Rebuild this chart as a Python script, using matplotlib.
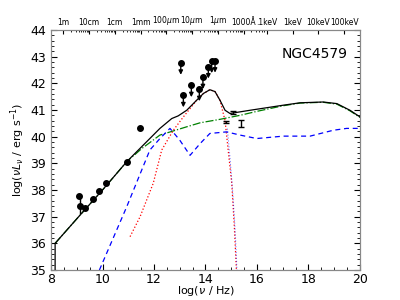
import numpy as np
import matplotlib
matplotlib.use('Agg')
import matplotlib.pyplot as plt
from matplotlib.ticker import MultipleLocator, FixedLocator

# photometry (log nu, log nuLnu)
det_x = [9.10, 9.13, 9.32, 9.64, 9.88, 10.14, 10.94, 11.46]
det_y = [37.77, 37.40, 37.31, 37.65, 37.97, 38.25, 39.06, 40.34]
lim_x = [13.04, 13.14, 13.45, 13.76, 13.90, 14.11, 14.24, 14.37]
lim_y = [42.77, 41.55, 41.93, 41.78, 42.23, 42.63, 42.83, 42.85]
xr_x = [14.80, 15.08, 15.39]
xr_y = [40.56, 40.92, 40.49]
xr_err = [0.04, 0.06, 0.13]

# model components
tot_x = [8.16, 8.16, 9.13, 10.0, 10.94, 11.58, 12.23, 12.69, 12.94, 13.27, 13.66, 13.92,
         14.17, 14.37, 14.56, 14.76, 14.95, 15.73, 17.02, 17.67, 18.57, 19.10, 19.61, 20.0]
tot_y = [35.0, 36.0, 37.06, 38.0, 39.06, 39.68, 40.31, 40.68, 40.78, 40.99, 41.37, 41.62,
         41.76, 41.69, 41.37, 40.99, 40.87, 40.99, 41.18, 41.27, 41.30, 41.24, 40.99, 40.74]
agn_x = [8.16, 9.13, 10.0, 10.94, 11.52, 12.23, 13.27, 13.79, 14.56, 15.34, 16.0, 17.02,
         17.67, 18.57, 19.10, 19.61, 20.0]
agn_y = [36.0, 37.06, 38.0, 39.06, 39.55, 40.06, 40.37, 40.52, 40.65, 40.8, 40.95, 41.16,
         41.26, 41.29, 41.22, 40.97, 40.72]
dust_x = [11.07, 11.46, 11.97, 12.30, 12.75, 13.14, 13.66, 13.92, 14.17, 14.37, 14.56,
          14.76, 14.88, 15.02, 15.12, 15.20]
dust_y = [36.25, 37.0, 38.25, 39.5, 40.24, 40.74, 41.37, 41.62, 41.76, 41.69, 41.37,
          40.6, 39.5, 38.25, 36.62, 35.0]
host_x = [9.88, 10.94, 11.84, 12.23, 12.62, 13.0, 13.4, 13.79, 14.17, 14.82, 15.34, 15.99,
          17.02, 18.06, 18.96, 19.48, 20.0]
host_y = [35.0, 37.37, 39.5, 39.93, 40.31, 39.87, 39.3, 39.74, 40.12, 40.18, 40.06, 39.93,
          40.02, 40.02, 40.24, 40.31, 40.31]
star_x = [14.85, 14.95, 15.05, 15.15, 15.22]
star_y = [40.3, 39.2, 38.0, 36.5, 35.0]

wl_labels = ['1m', '10cm', '1cm', '1mm', r'100$\mu$m', r'10$\mu$m', r'1$\mu$m',
             u'1000\u00c5', '.1keV', '1keV', '10keV', '100keV']
wl_pos = [8.477, 9.477, 10.477, 11.477, 12.477, 13.477, 14.477, 15.477,
          16.384, 17.384, 18.384, 19.384]

fig = plt.figure(figsize=(4, 3), dpi=100)
ax = fig.add_axes([0.1275, 0.1, 0.7725, 0.8])

ax.plot(tot_x, tot_y, color='k', lw=0.9, zorder=3)
ax.plot(agn_x, agn_y, color='green', lw=0.9, ls='-.', zorder=2)
ax.plot(dust_x, dust_y, color='red', lw=0.9, ls=':', zorder=2)
ax.plot(host_x, host_y, color='blue', lw=0.9, ls='--', dashes=(4, 3), zorder=2)
ax.plot(star_x, star_y, color='blue', lw=0.8, ls=':', alpha=0.5, zorder=2)

ax.plot(det_x, det_y, 'ko', ms=4, zorder=4)
ax.plot([9.12, 9.12], [37.77, 37.15], 'k-', lw=1.0, zorder=4)
ax.plot(lim_x, lim_y, 'ko', ms=4, zorder=4)
for x, y in zip(lim_x, lim_y):
    ax.annotate('', xy=(x, y - 0.45), xytext=(x, y),
                arrowprops=dict(arrowstyle='-|>', color='k', lw=1.0,
                                mutation_scale=6, shrinkA=0, shrinkB=0))
ax.errorbar(xr_x, xr_y, yerr=xr_err, fmt='none', ecolor='k', elinewidth=1.0,
            capsize=2, zorder=4)

ax.set_xlim(8, 20)
ax.set_ylim(35, 44)
ax.xaxis.set_major_locator(MultipleLocator(2))
ax.xaxis.set_minor_locator(MultipleLocator(0.5))
ax.yaxis.set_major_locator(MultipleLocator(1))
ax.yaxis.set_minor_locator(MultipleLocator(0.2))
ax.tick_params(which='both', direction='in', right=True, top=False, labelsize=9)
ax.tick_params(axis='x', pad=2)
ax.tick_params(which='major', length=4)
ax.tick_params(which='minor', length=2)
for sp in ax.spines.values():
    sp.set_color('#888888')
ax.set_xlabel(r'log($\nu$ / Hz)', fontsize=8, labelpad=-1)
ax.set_ylabel(r'log($\nu L_\nu$ / erg s$^{-1}$)', fontsize=8, labelpad=2)
ax.text(0.96, 0.93, 'NGC4579', transform=ax.transAxes, ha='right', va='top', fontsize=10)

ax2 = ax.twiny()
ax2.set_xlim(8, 20)
ax2.xaxis.set_major_locator(FixedLocator(wl_pos))
ax2.set_xticklabels(wl_labels, fontsize=5.5)
minor = []
for p in wl_pos[:8]:
    minor += [p + np.log10(k) for k in range(2, 10)]
ax2.xaxis.set_minor_locator(FixedLocator([m for m in minor if m < 16.3]))
ax2.tick_params(which='both', direction='in', pad=2)
ax2.tick_params(which='major', length=3)
ax2.tick_params(which='minor', length=1.5)
for sp in ax2.spines.values():
    sp.set_color('#888888')

fig.savefig('out.png', dpi=100)
